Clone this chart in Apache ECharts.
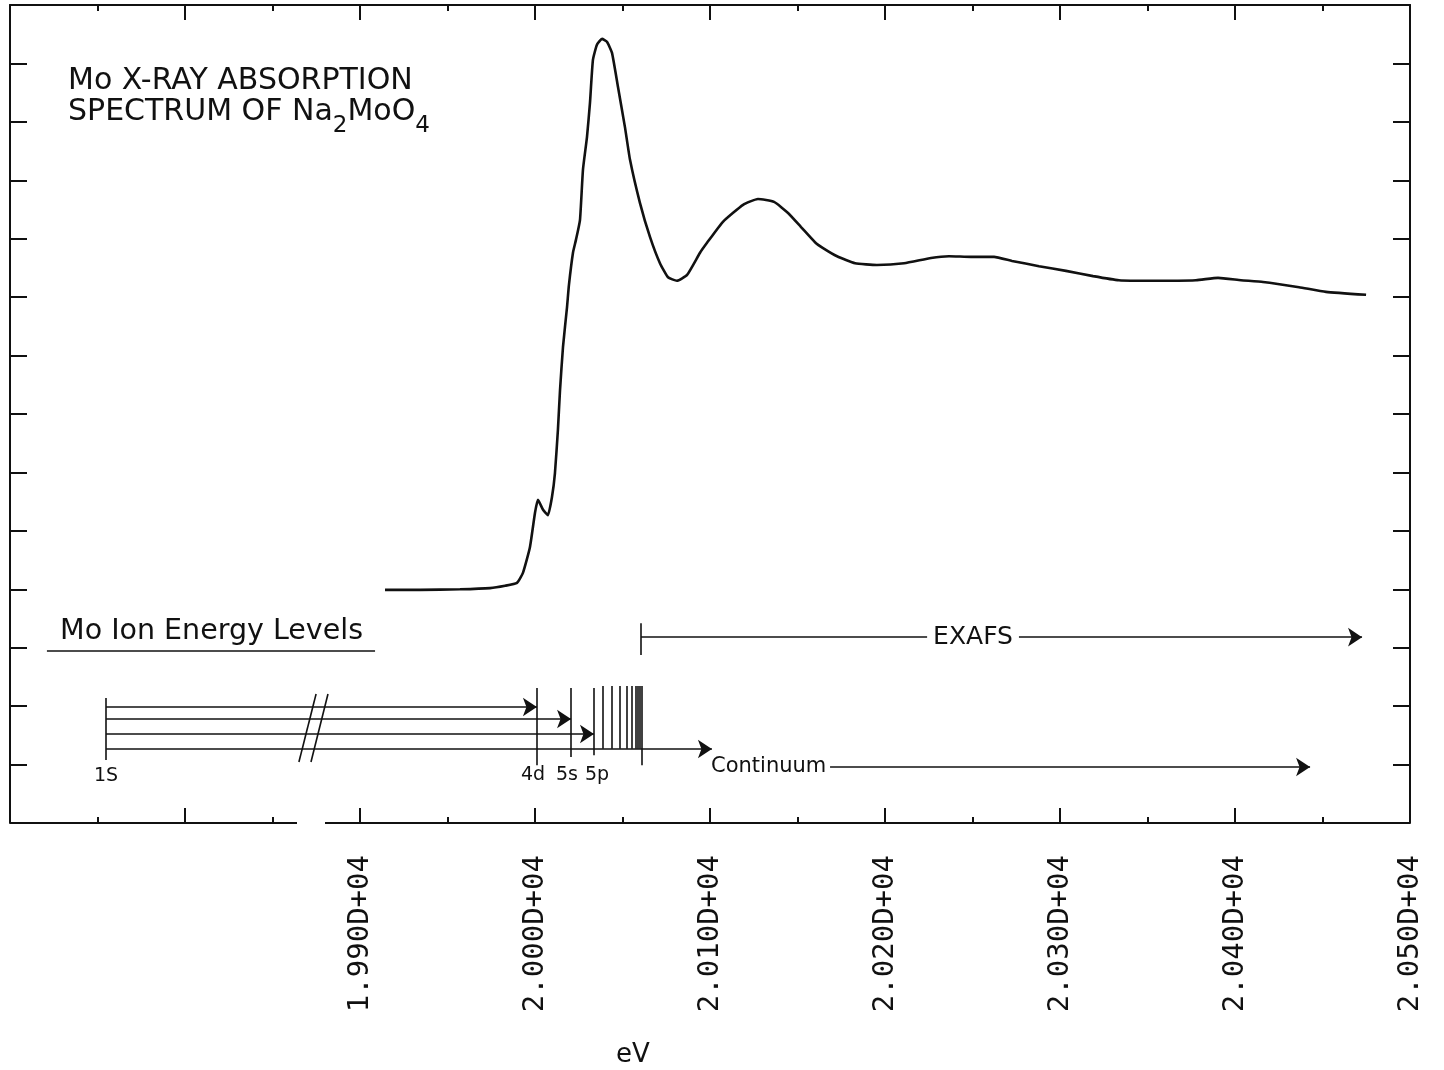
<!DOCTYPE html>
<html><head><meta charset="utf-8">
<script src="https://cdn.jsdelivr.net/npm/echarts@6/dist/echarts.min.js"></script>
<style>html,body{margin:0;padding:0;background:#fff}#c{width:1444px;height:1070px}</style>
</head><body><div id="c"></div>
<script>
// ---- spectrum (eV, absorption in tick units) ----
const energy = [19914.3,19934.3,19957.1,19974.3,19982.9,19989.7,19993.1,19997.1,20000.0,20001.7,20004.6,20007.4,20009.7,20011.4,20013.1,20014.3,20016.0,20018.3,20019.4,20021.7,20023.4,20025.7,20027.4,20029.7,20031.4,20033.1,20035.4,20038.3,20041.1,20044.0,20047.4,20051.4,20054.3,20060.0,20065.7,20071.4,20076.0,20081.1,20086.9,20094.3,20098.3,20107.4,20118.9,20127.4,20136.6,20144.6,20152.0,20160.0,20164.6,20172.6,20182.9,20195.4,20210.9,20226.3,20236.6,20249.1,20262.3,20272.6,20288.0,20303.4,20318.9,20333.7,20352.0,20377.7,20390.3,20403.4,20416.0,20436.6,20452.0,20474.9];
const absorption = [3.99,3.99,4.00,4.02,4.06,4.11,4.28,4.72,5.31,5.53,5.36,5.27,5.58,5.99,6.73,7.41,8.15,8.83,9.21,9.76,9.98,10.32,11.18,11.74,12.32,13.06,13.32,13.42,13.37,13.18,12.60,11.91,11.35,10.61,10.03,9.58,9.34,9.28,9.38,9.76,9.93,10.29,10.58,10.68,10.63,10.44,10.20,9.94,9.84,9.70,9.58,9.55,9.58,9.67,9.70,9.69,9.69,9.62,9.53,9.45,9.36,9.29,9.28,9.29,9.33,9.29,9.26,9.17,9.09,9.04];

// ---- axis ----
const tickValues = [19900,20000,20100,20200,20300,20400,20500];
const tickLabels = ['1.990D+04','2.000D+04','2.010D+04','2.020D+04','2.030D+04','2.040D+04','2.050D+04'];
const xMin = 19700, xMax = 20500;
const axisBreak = [19864, 19880];

// ---- energy-level diagram ----
const levelLines = [[19754.9,1.08,2.14],[20001.1,0.99,2.31],[20020.6,1.13,2.31],[20033.7,1.16,2.31]];
const rydbergLines = [20038.9,20044.0,20048.6,20052.6,20055.4,20057.7,20058.9,20060.0];
const rydbergSpan = [1.27,2.345];
const ionizationLimit = [20061.1,0.99,2.345];
const transitionArrows = [[19754.9,20001.1,1.985],[19754.9,20020.6,1.78],[19754.9,20033.7,1.523],[19754.9,20101.1,1.266]];
const breakSlashes = [[19865.1,1.044,19874.9,2.208],[19872.0,1.044,19881.7,2.208]];
const exafsRange = [20060.6,20472.6,3.18];
const exafsTick = [20060.6,2.875,3.42];
const continuumArrow = [20168.6,20442.9,0.958];
const headingUnderline = [19721.1,19908.6,2.944];
const levelLabels = [['1S',19754.9,0.80],['4d',19998.9,0.82],['5s',20018.3,0.82],['5p',20035.4,0.82]];
const heading = ['Mo Ion Energy Levels',19728.6,3.27];
const exafsLabel = ['EXAFS',20250.3,3.18];
const continuumLabel = ['Continuum',20100.6,0.958];

const ink = '#111';
const font = 'DejaVu Sans';
const seg = (x1,y1,x2,y2) => ({coords:[[x1,y1],[x2,y2]]});
const plain = [];
levelLines.forEach(l => plain.push(seg(l[0],l[1],l[0],l[2])));
rydbergLines.forEach(x => plain.push(seg(x,rydbergSpan[0],x,rydbergSpan[1])));
plain.push(seg(ionizationLimit[0],ionizationLimit[1],ionizationLimit[0],ionizationLimit[2]));
breakSlashes.forEach(s => plain.push(seg(s[0],s[1],s[2],s[3])));
plain.push(seg(exafsTick[0],exafsTick[1],exafsTick[0],exafsTick[2]));
plain.push(seg(headingUnderline[0],headingUnderline[2],headingUnderline[1],headingUnderline[2]));
const arrows = transitionArrows.map(a => seg(a[0],a[2],a[1],a[2]));
arrows.push(seg(exafsRange[0],exafsRange[2],exafsRange[1],exafsRange[2]));
arrows.push(seg(continuumArrow[0],continuumArrow[2],continuumArrow[1],continuumArrow[2]));
const frameBottom = [seg(xMin,0,axisBreak[0],0), seg(axisBreak[1],0,xMax,0)];

const lab = (o) => Object.assign({show:true, color:ink, opacity:1, fontFamily:font, fontWeight:'normal'}, o);
const textPts = [];
levelLabels.forEach(l => textPts.push({value:[l[1],l[2]], label:lab({formatter:l[0], position:'inside', fontSize:19})}));
textPts.push({value:[heading[1],heading[2]], label:lab({formatter:heading[0], position:'right', distance:0, fontSize:28.5})});
textPts.push({value:[exafsLabel[1],exafsLabel[2]], label:lab({formatter:exafsLabel[0], position:'inside', fontSize:25, backgroundColor:'#fff', padding:[2,6]})});
textPts.push({value:[continuumLabel[1],continuumLabel[2]], label:lab({formatter:continuumLabel[0], position:'right', distance:0, fontSize:21})});

const chart = echarts.init(document.getElementById('c'), null, {renderer:'canvas'});
const yAx = pos => ({type:'value', position:pos, min:0, max:14, interval:1,
  axisLine:{show:true, onZero:false, lineStyle:{color:ink, width:2}},
  axisTick:{show:true, inside:true, length:17, lineStyle:{color:ink, width:2}},
  axisLabel:{show:false}, splitLine:{show:false}});
const xAx = (pos, showLine, showLabel) => ({type:'value', position:pos, min:xMin, max:xMax, interval:100,
  axisLine:{show:showLine, onZero:false, lineStyle:{color:ink, width:2}},
  axisTick:{show:true, inside:true, length:15, lineStyle:{color:ink, width:2}},
  minorTick:{show:true, splitNumber:2, length:6, lineStyle:{color:ink, width:2}},
  axisLabel: showLabel ? {show:true, customValues:tickValues, rotate:90, margin:32,
       formatter:v => tickLabels[tickValues.indexOf(v)] || '',
       fontFamily:'DejaVu Sans Mono', fontSize:29, color:ink} : {show:false},
  splitLine:{show:false}});
chart.setOption({
  animation:false,
  backgroundColor:'#fff',
  title:[
    {left:68, top:66, padding:0,
     text:'{m|Mo X-RAY ABSORPTION}\n{m|SPECTRUM OF Na}{s|2}{m|MoO}{s|4}',
     textStyle:{rich:{
       m:{fontFamily:font, fontSize:30, fontWeight:'normal', color:ink, lineHeight:31, verticalAlign:'top'},
       s:{fontFamily:font, fontSize:23, fontWeight:'normal', color:ink, lineHeight:23, padding:[18,0,0,0], verticalAlign:'top'}
     }}},
    {left:616, top:1042, padding:0, text:'eV', textStyle:{fontFamily:font, fontSize:26, fontWeight:'normal', color:ink}}
  ],
  grid:{left:10, right:34, top:5, bottom:247, containLabel:false, outerBoundsMode:'none'},
  xAxis:[xAx('bottom', false, true), xAx('top', true, false)],
  yAxis:[yAx('left'), yAx('right')],
  series:[
    {type:'line', xAxisIndex:0, yAxisIndex:0, data:energy.map((e,i)=>[e,absorption[i]]),
     showSymbol:false, symbol:'none', smooth:0.15, lineStyle:{color:ink, width:2.6}},
    {type:'lines', coordinateSystem:'cartesian2d', xAxisIndex:0, yAxisIndex:0, clip:false,
     data:frameBottom, symbol:'none', lineStyle:{color:ink, width:2, opacity:1}},
    {type:'lines', coordinateSystem:'cartesian2d', xAxisIndex:0, yAxisIndex:0, clip:false,
     data:plain, symbol:'none', lineStyle:{color:ink, width:1.6, opacity:1}},
    {type:'lines', coordinateSystem:'cartesian2d', xAxisIndex:0, yAxisIndex:0, clip:false,
     data:arrows, symbol:['none','arrow'], symbolSize:[7,14], lineStyle:{color:ink, width:1.6, opacity:1},
     itemStyle:{color:ink}},
    {type:'scatter', xAxisIndex:0, yAxisIndex:0, symbolSize:0, data:textPts, silent:true, z:5,
     itemStyle:{opacity:1, color:ink},
     label:{show:true, color:ink, opacity:1, fontFamily:font}}
  ]
});
</script></body></html>
